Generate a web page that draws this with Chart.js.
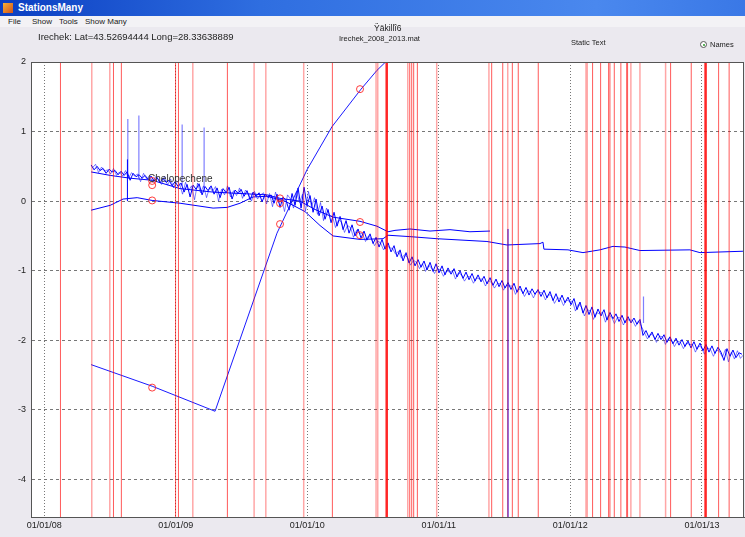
<!DOCTYPE html>
<html>
<head>
<meta charset="utf-8">
<script src="https://cdn.jsdelivr.net/npm/chart.js@4"></script>
<style>
  html, body { margin: 0; padding: 0; }
  body {
    width: 745px; height: 537px; overflow: hidden; position: relative;
    background: #ebe9ef; font-family: "Liberation Sans", Arial, sans-serif; color: #222;
  }
  #chart { position: absolute; left: 0; top: 0; }
  .titlebar {
    position: absolute; left: 0; top: 0; width: 745px; height: 16px; z-index: 2;
    background: linear-gradient(to right, #0b3fc2, #2f6ee0 35%, #4a88ee 80%, #3a78e6);
    color: #fff; font-weight: bold; font-size: 10px; line-height: 16px;
  }
  .titlebar .icon {
    position: absolute; left: 3px; top: 3px; width: 10px; height: 10px;
    background: linear-gradient(135deg, #f7b032, #d2521c);
  }
  .titlebar .name { position: absolute; left: 18px; top: 0; }
  .menubar {
    position: absolute; left: 0; top: 16px; width: 745px; height: 11px; z-index: 2;
    background: #f3f2f5; font-size: 8px; line-height: 11px;
  }
  .menubar span { position: absolute; top: 0; }
  .txt { position: absolute; z-index: 2; white-space: nowrap; line-height: 1; }
  .radio {
    position: absolute; left: 700px; top: 41px; width: 7px; height: 7px; z-index: 2;
    border: 1px solid #555; border-radius: 50%; background: #fff; box-sizing: border-box;
  }
  .radio::after {
    content: ""; position: absolute; left: 1.5px; top: 1.5px; width: 2px; height: 2px;
    border-radius: 50%; background: #2a9a2a;
  }
</style>
</head>
<body>
<div class="titlebar"><span class="icon"></span><span class="name">StationsMany</span></div>
<div class="menubar">
  <span style="left:8px">File</span>
  <span style="left:32px">Show</span>
  <span style="left:59px">Tools</span>
  <span style="left:85px">Show Many</span>
</div>
<div class="txt" style="left:38px; top:32px; font-size:9.5px">Irechek: Lat=43.52694444 Long=28.33638889</div>
<div class="txt" style="left:374px; top:24px; font-size:8.5px">Ÿäkillî6</div>
<div class="txt" style="left:339px; top:35px; font-size:7.5px">Irechek_2008_2013.mat</div>
<div class="txt" style="left:571px; top:39px; font-size:7.5px">Static Text</div>
<div class="radio"></div>
<div class="txt" style="left:710px; top:41px; font-size:7.5px">Names</div>
<canvas id="chart" width="745" height="537"></canvas>
<script>
// axis ticks
const yearTicks = [2008, 2009, 2010, 2011, 2012, 2013];
const yearLabels = ["01/01/08", "01/01/09", "01/01/10", "01/01/11", "01/01/12", "01/01/13"];
const valueTicks = [-4, -3, -2, -1, 0, 1, 2];
const xMin = 2007.90, xMax = 2013.32;
const yMin = -4.54, yMax = 2.0;

// dense daily series (sampled), filtered and raw
const noisyStart = 2008.357;
const noisyStep = 0.0228;
const noisyValues = [
  0.52, 0.45, 0.50, 0.44, 0.47, 0.40, 0.46, 0.42, 0.44, 0.38,
  0.43, 0.37, 0.42, 0.30, 0.40, 0.35, 0.38, 0.33, 0.37, 0.31,
  0.36, 0.29, 0.34, 0.26, 0.33, 0.27, 0.30, 0.22, 0.28, 0.21,
  0.26, 0.13, 0.24, 0.06, 0.23, 0.17, 0.25, 0.09, 0.21, 0.15,
  0.22, 0.10, 0.19, 0.05, 0.18, 0.12, 0.20, 0.03, 0.16, 0.11,
  0.17, 0.07, 0.15, 0.02, 0.13, 0.07, 0.12, -0.01, 0.10, 0.05,
  0.09, -0.03, 0.10, -0.09, 0.06, 0.01, -0.13, 0.11, -0.06, 0.19,
  -0.10, 0.20, -0.06, 0.08, -0.16, 0.03, -0.21, -0.07, -0.26, -0.12,
  -0.31, -0.16, -0.36, -0.22, -0.41, -0.28, -0.46, -0.34, -0.50, -0.40,
  -0.53, -0.43, -0.56, -0.47, -0.61, -0.52, -0.66, -0.55, -0.69, -0.60,
  -0.73, -0.64, -0.80, -0.70, -0.86, -0.74, -0.89, -0.80, -0.93, -0.84,
  -0.95, -0.86, -0.99, -0.88, -1.01, -0.90, -1.03, -0.93, -1.06, -0.96,
  -1.05, -0.97, -1.09, -1.00, -1.11, -1.02, -1.13, -1.04, -1.15, -1.06,
  -1.16, -1.08, -1.19, -1.10, -1.21, -1.12, -1.23, -1.14, -1.25, -1.17,
  -1.27, -1.18, -1.31, -1.22, -1.33, -1.24, -1.35, -1.26, -1.34, -1.27,
  -1.37, -1.28, -1.39, -1.30, -1.43, -1.33, -1.45, -1.35, -1.46, -1.38,
  -1.49, -1.40, -1.56, -1.45, -1.61, -1.50, -1.63, -1.52, -1.67, -1.55,
  -1.65, -1.56, -1.71, -1.60, -1.69, -1.62, -1.73, -1.64, -1.75, -1.66,
  -1.75, -1.68, -1.77, -1.70, -1.93, -1.86, -1.96, -1.88, -1.99, -1.90,
  -1.99, -1.92, -2.03, -1.95, -2.05, -1.97, -2.07, -1.99, -2.09, -2.01,
  -2.11, -2.02, -2.13, -2.04, -2.15, -2.06, -2.17, -2.08, -2.19, -2.10,
  -2.17, -2.29, -2.12, -2.23, -2.14, -2.25, -2.18, -2.20
];
const rawStart = 2008.368;
const rawValues = [
  0.48, 0.53, 0.41, 0.49, 0.43, 0.45, 0.39, 0.47, 0.37, 0.42,
  0.36, 0.44, 0.33, 0.41, 0.36, 0.39, 0.28, 0.40, 0.32, 0.36,
  0.27, 0.35, 0.31, 0.24, 0.36, 0.23, 0.32, 0.19, 0.29, 0.25,
  0.10, 0.27, 0.15, 0.22, 0.02, 0.26, 0.12, 0.22, 0.05, 0.20,
  0.14, 0.21, 0.00, 0.17, 0.09, 0.22, 0.06, 0.15, 0.08, 0.19,
  0.04, 0.16, 0.10, 0.00, 0.14, 0.03, 0.09, 0.12, -0.04, 0.11,
  -0.08, 0.13, -0.02, 0.04, -0.15, 0.09, 0.03, -0.10, 0.14, -0.02,
  0.10, -0.14, 0.14, -0.08, 0.05, -0.19, -0.02, -0.28, -0.10, -0.20,
  -0.22, -0.38, -0.27, -0.30, -0.45, -0.35, -0.38, -0.52, -0.42, -0.46,
  -0.47, -0.58, -0.50, -0.54, -0.64, -0.57, -0.60, -0.70, -0.63, -0.67,
  -0.68, -0.76, -0.72, -0.82, -0.77, -0.81, -0.92, -0.85, -0.88, -0.97,
  -0.90, -1.01, -0.92, -0.96, -1.04, -0.97, -0.99, -1.08, -1.00, -1.02,
  -1.00, -1.12, -1.03, -1.06, -1.15, -1.08, -1.09, -1.18, -1.10, -1.12,
  -1.12, -1.22, -1.14, -1.17, -1.25, -1.18, -1.19, -1.28, -1.21, -1.22,
  -1.22, -1.34, -1.26, -1.28, -1.37, -1.29, -1.30, -1.39, -1.30, -1.31,
  -1.32, -1.42, -1.34, -1.36, -1.47, -1.39, -1.40, -1.50, -1.42, -1.44,
  -1.44, -1.58, -1.48, -1.52, -1.65, -1.56, -1.58, -1.70, -1.60, -1.62,
  -1.60, -1.74, -1.64, -1.66, -1.76, -1.67, -1.68, -1.78, -1.70, -1.71,
  -1.71, -1.80, -1.72, -1.80, -1.89, -1.98, -1.91, -1.93, -2.03, -1.94,
  -1.95, -2.06, -1.97, -2.00, -2.09, -2.01, -2.03, -2.12, -2.04, -2.06,
  -2.06, -2.17, -2.08, -2.10, -2.20, -2.11, -2.13, -2.23, -2.14, -2.16,
  -2.24, -2.13, -2.31, -2.17, -2.27, -2.15, -2.26, -2.21
];

// smooth upper series
const upperYears  = [2008.357, 2008.502, 2008.653, 2008.821, 2009.033, 2009.284, 2009.489, 2009.695, 2009.793, 2009.945,
                     2010.059, 2010.196, 2010.401, 2010.530, 2010.614, 2010.667, 2010.781, 2010.933, 2011.085, 2011.237, 2011.389];
const upperValues = [0.42, 0.37, 0.33, 0.30, 0.18, 0.13, 0.11, 0.09, 0.04, 0.00,
                     -0.12, -0.23, -0.29, -0.36, -0.44, -0.42, -0.40, -0.43, -0.41, -0.44, -0.43];

// smooth lower series
const lowerYears  = [2008.357, 2008.502, 2008.600, 2008.707, 2008.821, 2009.033, 2009.284, 2009.391, 2009.489, 2009.588,
                     2009.695, 2009.831, 2009.983, 2010.097, 2010.196, 2010.401, 2010.576, 2010.614, 2010.781, 2010.986,
                     2011.366, 2011.518, 2011.769, 2011.792, 2011.799, 2011.982, 2012.096, 2012.225, 2012.324, 2012.415,
                     2012.529, 2012.909, 2012.985, 2013.312];
const lowerValues = [-0.13, -0.06, 0.03, 0.05, 0.01, -0.03, -0.10, -0.09, -0.03, 0.06,
                     0.07, 0.00, -0.15, -0.35, -0.50, -0.55, -0.54, -0.49, -0.51, -0.54,
                     -0.58, -0.63, -0.61, -0.59, -0.69, -0.70, -0.74, -0.70, -0.65, -0.66,
                     -0.71, -0.70, -0.74, -0.72];

// steep series
const steepYears  = [2008.357, 2008.821, 2009.299, 2009.527, 2009.770, 2009.998, 2010.188, 2010.409, 2010.530, 2010.606, 2010.705];
const steepValues = [-2.35, -2.66, -3.02, -1.78, -0.46, 0.45, 1.07, 1.61, 1.88, 2.02, 2.22];

// red circle markers
const markerYears  = [2008.821, 2008.821, 2008.821, 2008.821, 2009.793, 2009.793, 2009.793, 2010.401, 2010.401, 2010.401];
const markerValues = [0.29, 0.23, 0.01, -2.68, 0.04, -0.03, -0.33, 1.61, -0.30, -0.49];

// spikes
const paleSpikeYears = [2008.636, 2008.720, 2009.049, 2009.216, 2012.556];
const paleSpikeLow   = [0.35, 0.33, 0.22, 0.18, -1.75];
const paleSpikeHigh  = [1.18, 1.23, 1.10, 1.06, -1.37];
const darkSpikeYears = [2008.633, 2011.526];
const darkSpikeLow   = [0.00, -4.60];
const darkSpikeHigh  = [0.60, -0.40];

// event markers (vertical lines)
const redEvents = [2008.124, 2008.527, 2008.587, 2008.999, 2009.021, 2009.393, 2010.191, 2010.779, 2010.794, 2010.809,
                   2010.837, 2011.402, 2011.486, 2011.559, 2011.604, 2011.756, 2012.169, 2012.230, 2012.291, 2012.301,
                   2012.334, 2012.384, 2012.428, 2012.435, 2012.762, 2012.919, 2013.127, 2013.207];
const paleEvents = [2008.362, 2008.499, 2009.130, 2009.596, 2009.685, 2009.973, 2010.523, 2010.536, 2010.764, 2010.984,
                    2011.381, 2011.524, 2012.119, 2012.128, 2012.460, 2012.529, 2012.724];
const strongEvents = [2010.604, 2013.028];

const pairs = (xs, ys) => xs.map((x, i) => ({ x: x, y: ys[i] }));
function verticals(xs, lo, hi) {
  const pts = [];
  xs.forEach((x, i) => {
    pts.push({ x: x, y: lo[i] }, { x: x, y: hi[i] }, { x: x, y: null });
  });
  return pts;
}
const fullLow = xs => xs.map(() => yMin - 1);
const fullHigh = xs => xs.map(() => yMax + 1);

const lineBase = { pointRadius: 0, borderWidth: 1, tension: 0, spanGaps: false, fill: false };

const datasets = [
  Object.assign({}, lineBase, { label: "markers", data: pairs(markerYears, markerValues), showLine: false,
    pointRadius: 3.5, pointStyle: "circle", pointBorderColor: "rgba(255,40,40,0.9)", pointBackgroundColor: "rgba(0,0,0,0)",
    pointBorderWidth: 1, order: 0 }),
  Object.assign({}, lineBase, { label: "strong", data: verticals(strongEvents, fullLow(strongEvents), fullHigh(strongEvents)),
    borderColor: "rgba(255,0,0,0.85)", borderWidth: 2.5, order: 1 }),
  Object.assign({}, lineBase, { label: "red", data: verticals(redEvents, fullLow(redEvents), fullHigh(redEvents)),
    borderColor: "rgba(255,0,0,0.65)", order: 1 }),
  Object.assign({}, lineBase, { label: "pale", data: verticals(paleEvents, fullLow(paleEvents), fullHigh(paleEvents)),
    borderColor: "rgba(255,0,0,0.35)", borderWidth: 1.5, order: 1 }),
  Object.assign({}, lineBase, { label: "darkSpikes", data: verticals(darkSpikeYears, darkSpikeLow, darkSpikeHigh),
    borderColor: "#0000ff", order: 2 }),
  Object.assign({}, lineBase, { label: "paleSpikes", data: verticals(paleSpikeYears, paleSpikeLow, paleSpikeHigh),
    borderColor: "rgba(0,0,255,0.5)", borderWidth: 1.2, order: 2 }),
  Object.assign({}, lineBase, { label: "steep", data: pairs(steepYears, steepValues), borderColor: "#1a1aff", order: 2 }),
  Object.assign({}, lineBase, { label: "upper", data: pairs(upperYears, upperValues), borderColor: "#0000ff", order: 2 }),
  Object.assign({}, lineBase, { label: "lower", data: pairs(lowerYears, lowerValues), borderColor: "#0000ff", order: 2 }),
  Object.assign({}, lineBase, { label: "noisy",
    data: noisyValues.map((v, i) => ({ x: noisyStart + i * noisyStep, y: v })), borderColor: "#0000ff", order: 3 }),
  Object.assign({}, lineBase, { label: "raw",
    data: rawValues.map((v, i) => ({ x: rawStart + i * noisyStep, y: v })), borderColor: "rgba(0,0,255,0.5)", order: 4 })
];

// white plot area, outer box and station label
const plotFrame = {
  id: "plotFrame",
  beforeDraw(chart) {
    const a = chart.chartArea, c = chart.ctx;
    c.save();
    c.fillStyle = "#ffffff";
    c.fillRect(a.left, a.top, a.right - a.left, a.bottom - a.top);
    c.restore();
  },
  afterDatasetsDraw(chart) {
    const c = chart.ctx, sx = chart.scales.x, sy = chart.scales.y;
    c.save();
    c.font = "10px 'Liberation Sans', Arial, sans-serif";
    c.fillStyle = "#333";
    c.textBaseline = "middle";
    c.fillText("Chelopechene", sx.getPixelForValue(2008.79), sy.getPixelForValue(0.31));
    c.restore();
  },
  afterDraw(chart) {
    const a = chart.chartArea, c = chart.ctx;
    c.save();
    c.strokeStyle = "#555";
    c.lineWidth = 1;
    c.strokeRect(a.left + 0.5, a.top + 0.5, a.right - a.left - 1, a.bottom - a.top);
    c.restore();
  }
};

new Chart(document.getElementById("chart"), {
  type: "line",
  data: { datasets: datasets },
  options: {
    responsive: false,
    animation: false,
    events: [],
    layout: { autoPadding: false, padding: { top: 62, right: 1, left: 0, bottom: 0 } },
    plugins: { legend: { display: false }, tooltip: { enabled: false } },
    scales: {
      x: {
        type: "linear", min: xMin, max: xMax,
        afterFit: s => { s.height = 20; s.paddingLeft = 0; s.paddingRight = 0; },
        afterBuildTicks: s => { s.ticks = yearTicks.map(v => ({ value: v })); },
        ticks: {
          padding: 3, maxRotation: 0, autoSkip: false, color: "#222",
          font: { size: 9, family: "'Liberation Sans', Arial, sans-serif" },
          callback: v => yearLabels[yearTicks.indexOf(v)]
        },
        grid: { color: "#777", drawTicks: false },
        border: { display: true, color: "#555", dash: [1, 2] }
      },
      y: {
        type: "linear", min: yMin, max: yMax,
        afterFit: s => { s.width = 31; s.paddingTop = 0; s.paddingBottom = 0; },
        afterBuildTicks: s => { s.ticks = valueTicks.map(v => ({ value: v })); },
        ticks: {
          padding: 5, color: "#222",
          font: { size: 9, family: "'Liberation Sans', Arial, sans-serif" }
        },
        grid: { color: "#777", drawTicks: false },
        border: { display: true, color: "#555", dash: [3, 3] }
      }
    }
  },
  plugins: [plotFrame]
});
</script>
</body>
</html>
